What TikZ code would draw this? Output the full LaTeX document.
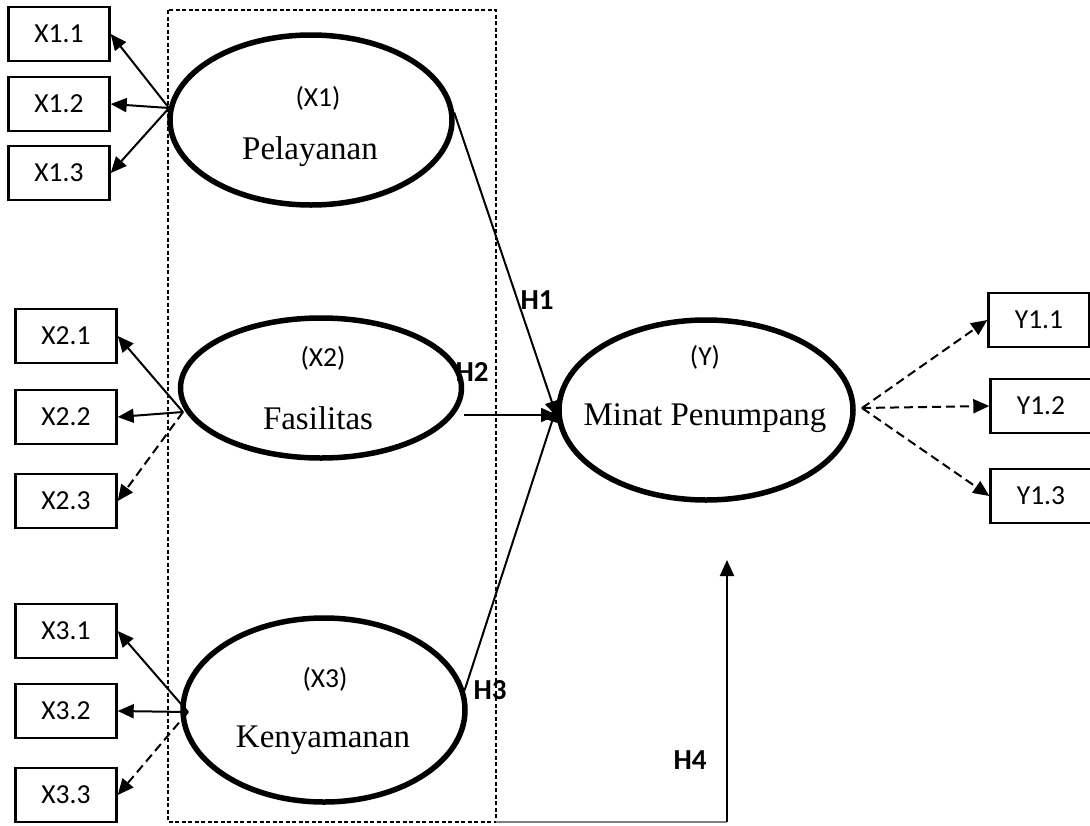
\documentclass[tikz,border=0pt]{standalone}
\usepackage{fontspec}
\setmainfont{Liberation Serif}
\newfontfamily\calib{Carlito}
\usetikzlibrary{shapes.geometric,arrows.meta}
\tikzset{
  lat/.style={ellipse,draw,line width=5.5pt,inner sep=0pt},
  ind/.style={draw,line width=2.4pt,minimum width=101pt,minimum height=54pt,inner sep=0pt,font=\calib\fontsize{27.5}{31}\selectfont},
  ptr/.style={line width=2pt,-{Triangle[length=16pt,width=14pt]}},
  dptr/.style={ptr,dash pattern=on 9pt off 5pt},
  codetxt/.style={font=\calib\fontsize{27.5}{31}\selectfont},
  nametxt/.style={font=\fontsize{33}{38}\selectfont},
  hyp/.style={font=\calib\bfseries\fontsize{29}{33}\selectfont}
}
\begin{document}
\begin{tikzpicture}[x=1pt,y=-1pt]
\useasboundingbox (0,0) rectangle (1090,825);
% dashed frame
\draw[line width=1.3pt,dash pattern=on 4pt off 2.5pt] (168,10) rectangle (496,822);
% latent variables
\node[lat,minimum width=282pt,minimum height=170pt] (x1) at (311,120) {};
\node[lat,minimum width=281pt,minimum height=140pt] (x2) at (321,388) {};
\node[lat,minimum width=282pt,minimum height=184pt] (x3) at (324,710) {};
\node[lat,minimum width=294pt,minimum height=180pt] (y) at (706,410) {};
\node[codetxt] (x1c) at (318,98) {(X1)};
\node[nametxt] (x1n) at (310,152) {Pelayanan};
\node[codetxt] (x2c) at (323,358) {(X2)};
\node[nametxt] (x2n) at (318,418) {Fasilitas};
\node[codetxt] (x3c) at (325,679) {(X3)};
\node[nametxt] (x3n) at (323,740) {Kenyamanan};
\node[codetxt] (yc) at (705,357) {(Y)};
\node[nametxt] (yn) at (705,418) {Minat Penumpang};
% indicators
\node[ind] (b11) at (59,34) {X1.1};
\node[ind] (b12) at (59,104) {X1.2};
\node[ind] (b13) at (59,173) {X1.3};
\node[ind] (b21) at (66,336) {X2.1};
\node[ind] (b22) at (66,417) {X2.2};
\node[ind] (b23) at (66,501) {X2.3};
\node[ind] (b31) at (66,631) {X3.1};
\node[ind] (b32) at (66,711) {X3.2};
\node[ind] (b33) at (66,795) {X3.3};
\node[ind] (c1) at (1039,320) {Y1.1};
\node[ind] (c2) at (1041,406) {Y1.2};
\node[ind] (c3) at (1041,496) {Y1.3};
% loading arrows
\coordinate (p1) at (169,108);
\coordinate (p2) at (183,412);
\coordinate (p3) at (188,712);
\coordinate (q) at (862,408);
\draw[ptr] (p1) -- (b11.east);
\draw[ptr] (p1) -- (b12.east);
\draw[ptr] (p1) -- (b13.east);
\draw[ptr] (p2) -- (b21.east);
\draw[ptr] (p2) -- (b22.east);
\draw[dptr] (p2) -- (b23.east);
\draw[ptr] (p3) -- (b31.east);
\draw[ptr] (p3) -- (b32.east);
\draw[dptr] (p3) -- (b33.east);
\draw[dptr] (q) -- (c1.west);
\draw[dptr] (q) -- (c2.west);
\draw[dptr] (q) -- (c3.west);
% structural paths
\coordinate (yt) at (557,412);
\draw[ptr] (x1.3) -- ([yshift=-5pt]yt);
\draw[ptr] (x2.east |- 0,415) -- (557,415);
\draw[ptr] (x3.8) -- ([yshift=6pt]yt);
\node[hyp] (h1) at (537,300) {H1};
\node[hyp] (h2) at (472,372) {H2};
\node[hyp] (h3) at (490,690) {H3};
\node[hyp] (h4) at (690,760) {H4};
% H4
\coordinate (h4b) at (727,822);
\coordinate (h4t) at (727,560);
\draw[gray,line width=1.3pt] (496,822) -- (h4b);
\draw[ptr] (h4b) -- (h4t);
\end{tikzpicture}
\end{document}
